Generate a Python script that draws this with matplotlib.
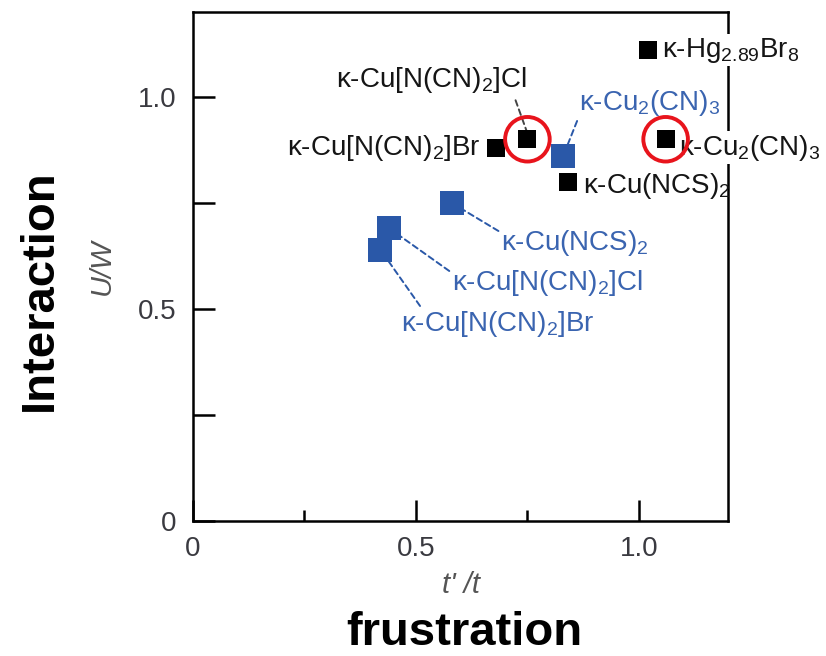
import matplotlib
matplotlib.use('Agg')
import matplotlib.pyplot as plt
from matplotlib.patches import Ellipse
from matplotlib.ticker import MultipleLocator

plt.rcParams['font.family'] = ['Liberation Sans', 'DejaVu Sans']
plt.rcParams['mathtext.default'] = 'regular'

# black: one group of salts
black_names = ['κ-Cu[N(CN)$_2$]Br', 'κ-Cu[N(CN)$_2$]Cl', 'κ-Cu(NCS)$_2$',
               'κ-Cu$_2$(CN)$_3$', 'κ-Hg$_{2.89}$Br$_8$']
black_x = [0.68, 0.75, 0.84, 1.06, 1.02]
black_y = [0.88, 0.90, 0.80, 0.90, 1.11]

# blue: the other group
blue_names = ['κ-Cu$_2$(CN)$_3$', 'κ-Cu(NCS)$_2$', 'κ-Cu[N(CN)$_2$]Cl',
              'κ-Cu[N(CN)$_2$]Br']
blue_x = [0.83, 0.58, 0.44, 0.42]
blue_y = [0.86, 0.75, 0.69, 0.64]

circled = [1, 3]  # black points marked with red circles

blue = '#2a58a8'
blue_txt = '#3a64b0'
tick_col = '#3a3a40'

fig = plt.figure(figsize=(8.26, 6.56), dpi=100)
ax = fig.add_axes([0.2337, 0.2058, 0.6477, 0.7759])
ax.set_xlim(0, 1.2)
ax.set_ylim(0, 1.2)

ax.scatter(blue_x, blue_y, marker='s', s=290, color=blue, zorder=3, linewidths=0)
ax.scatter(black_x, black_y, marker='s', s=170, color='black', zorder=4, linewidths=0)

for i in circled:
    ax.add_patch(Ellipse((black_x[i], black_y[i]), 0.1, 0.105, fill=False,
                         edgecolor='#e8141c', lw=2.8, zorder=8))

fs = 20
ls = dict(arrowstyle='-', linestyle=(0, (3, 2)), lw=1.4)

# black labels
ax.text(0.645, black_y[0], black_names[0], ha='right', va='center',
        fontsize=fs, color='#151515')
ax.annotate(black_names[1], xy=(0.748, 0.92), xytext=(0.535, 1.04),
            ha='center', va='center', fontsize=fs, color='#151515',
            arrowprops=dict(color='#444444', relpos=(0.93, 0.0), shrinkA=2,
                            shrinkB=0, **ls))
ax.text(0.875, black_y[2] - 0.01, black_names[2], ha='left', va='center',
        fontsize=fs, color='#151515')
ax.text(1.09, black_y[3] - 0.02, black_names[3], ha='left', va='center',
        fontsize=fs, color='#151515', zorder=6,
        bbox=dict(facecolor='white', edgecolor='none', pad=1))
ax.text(1.052, black_y[4], black_names[4], ha='left', va='center',
        fontsize=fs, color='#151515', zorder=6,
        bbox=dict(facecolor='white', edgecolor='none', pad=1))

# blue labels
blue_text_pos = [(1.025, 0.985), (0.857, 0.655), (0.795, 0.56), (0.683, 0.465)]
blue_rel = [(0.0, 0.1), (0.0, 0.85), (0.0, 0.85), (0.11, 1.0)]
for name, x, y, (tx, ty), rp in zip(blue_names, blue_x, blue_y,
                                     blue_text_pos, blue_rel):
    ax.annotate(name, xy=(x, y), xytext=(tx, ty), ha='center', va='center',
                fontsize=fs, color=blue_txt,
                arrowprops=dict(color=blue, relpos=rp, shrinkA=0, shrinkB=0,
                                **ls))

for s in ax.spines.values():
    s.set_linewidth(1.8)
    s.set_zorder(2.5)

ax.xaxis.set_major_locator(MultipleLocator(0.5))
ax.xaxis.set_minor_locator(MultipleLocator(0.25))
ax.yaxis.set_major_locator(MultipleLocator(0.5))
ax.yaxis.set_minor_locator(MultipleLocator(0.25))
ax.tick_params(which='both', direction='in', width=1.8, labelsize=20,
               labelcolor=tick_col, top=False, right=False)
ax.tick_params(axis='y', which='both', length=16, pad=12)
ax.tick_params(axis='x', which='major', length=15, pad=11)
ax.tick_params(axis='x', which='minor', length=8)
ax.set_xticks([0, 0.5, 1.0])
ax.set_xticklabels(['0', '0.5', '1.0'])
ax.set_yticks([0, 0.5, 1.0])
ax.set_yticklabels(['0', '0.5', '1.0'])

ax.set_xlabel("t' /t", fontsize=21, style='italic', color='#555555', labelpad=6)
ax.set_ylabel('U/W', fontsize=21, style='italic', color='#555555', labelpad=16)

fig.text(0.562, 0.035, 'frustration', fontsize=34, fontweight='bold',
         ha='center', va='center')
fig.text(0.048, 0.558, 'Interaction', fontsize=34, fontweight='bold',
         ha='center', va='center', rotation=90)

fig.savefig('out.png', dpi=100)
